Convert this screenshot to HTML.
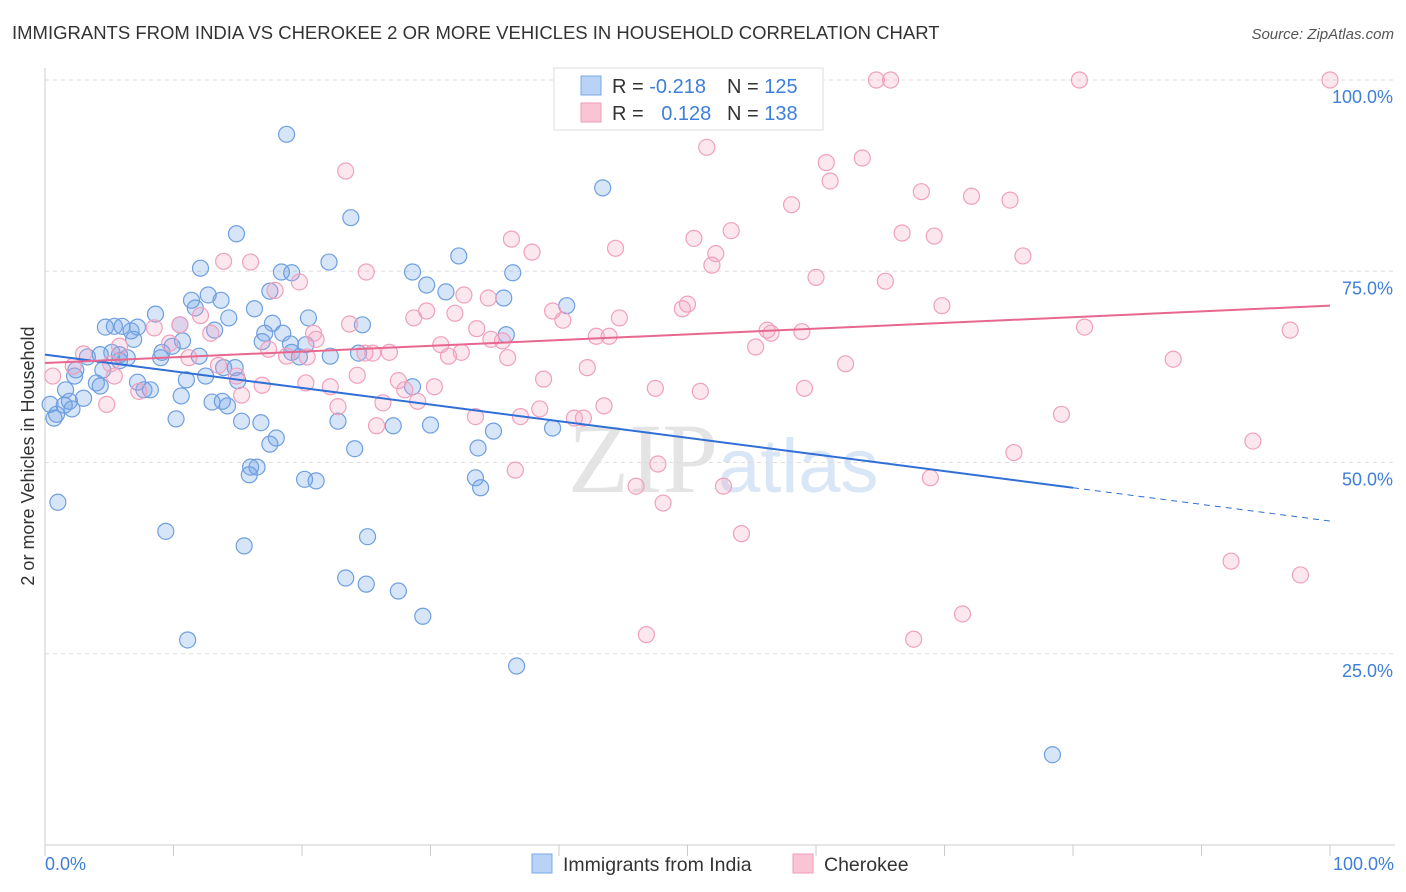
<!DOCTYPE html>
<html><head><meta charset="utf-8">
<style>
body{margin:0;background:#fff;font-family:"Liberation Sans",sans-serif;}
#wrap{position:relative;width:1406px;height:892px;overflow:hidden;}
</style></head><body>
<div id="wrap">
<svg id="svg" width="1406" height="892">
<text x="12" y="39" font-size="18.5" fill="#333">IMMIGRANTS FROM INDIA VS CHEROKEE 2 OR MORE VEHICLES IN HOUSEHOLD CORRELATION CHART</text>
<text x="1394" y="39" font-size="15" fill="#555" font-style="italic" text-anchor="end">Source: ZipAtlas.com</text>
<text x="718" y="492" font-size="100" fill="#e4e4e4" text-anchor="end" font-family="Liberation Serif">ZIP</text>
<text x="718" y="492" font-size="76" fill="#d9e6f5">atlas</text>
<g id="grid"></g>
<g id="axes"></g>
<g id="pts"></g>
<g id="trend"></g>
<text transform="translate(34,456) rotate(-90)" font-size="18" fill="#333" text-anchor="middle">2 or more Vehicles in Household</text>
<text x="45" y="870" font-size="18" fill="#3d7fd9">0.0%</text>
<text x="1394" y="870" font-size="18" fill="#3d7fd9" text-anchor="end">100.0%</text>
<g>
<rect x="554" y="68" width="269" height="62" fill="#fff" stroke="#ddd"/>
<rect x="581" y="76" width="20" height="19" fill="#b8d3f5" stroke="#7aa7e6"/>
<rect x="581" y="103" width="20" height="19" fill="#f9c5d4" stroke="#ef9ab6"/>
<text x="612" y="93" font-size="20" fill="#333">R = <tspan fill="#3d7fd9">-0.218</tspan></text>
<text x="727" y="93" font-size="20" fill="#333">N = <tspan fill="#3d7fd9">125</tspan></text>
<text x="612" y="120" font-size="20" fill="#333">R = <tspan fill="#3d7fd9" dx="12">0.128</tspan></text>
<text x="727" y="120" font-size="20" fill="#333">N = <tspan fill="#3d7fd9">138</tspan></text>
</g>
<g>
<rect x="532" y="854" width="20" height="19" fill="#b8d3f5" stroke="#7aa7e6"/>
<text x="563" y="871" font-size="19.5" fill="#333">Immigrants from India</text>
<rect x="793" y="854" width="20" height="19" fill="#f9c5d4" stroke="#ef9ab6"/>
<text x="824" y="871" font-size="19.5" fill="#333">Cherokee</text>
</g>
</svg>
</div>
<script>
const yTicks=[100,75,50,25];
const yTickLabels=["100.0%","75.0%","50.0%","25.0%"];
const xTicks=[0,10,20,30,40,50,60,70,80,90,100];
const indiaX=[18.8,43.4,23.8,14.9,32.2,22.1,12.1,18.4,19.2,28.6,36.4,29.7,17.5,31.2,12.7,11.4,13.7,35.7,11.7,40.6,16.3,8.6,20.5,14.3,17.7,24.7,4.7,5.4,6.0,7.2,10.5,6.7,13.2,17.1,18.5,35.9,6.9,10.7,9.9,16.9,19.1,20.3,5.2,9.1,4.3,5.8,3.3,6.4,9.0,12.0,19.8,22.2,24.4,5.8,13.9,14.8,2.4,4.5,2.3,12.5,11.0,15.0,7.2,4.0,4.3,1.6,8.2,7.7,28.6,10.6,3.0,1.9,13.0,13.8,0.4,1.5,14.2,2.1,0.9,0.7,10.2,15.3,22.8,16.8,27.1,30.0,34.9,39.5,18.0,17.5,24.1,33.7,16.0,16.5,15.9,20.2,21.1,33.5,33.9,1.0,9.4,25.1,15.5,23.4,25.0,27.5,29.4,11.1,36.7,78.4,19.2];
const indiaY=[92.9,85.9,82.0,79.9,77.0,76.2,75.4,74.9,74.8,74.9,74.8,73.2,72.4,72.3,71.9,71.2,71.2,71.5,70.2,70.5,70.1,69.4,68.9,68.9,68.2,68.0,67.7,67.8,67.8,67.7,68.0,67.2,67.3,66.9,66.9,66.7,66.1,65.9,65.2,65.8,65.5,65.4,64.4,64.4,64.1,64.1,63.8,63.7,63.7,63.9,63.8,63.9,64.3,63.3,62.4,62.4,62.1,62.1,61.3,61.3,60.8,60.7,60.5,60.4,60.0,59.5,59.5,59.5,59.9,58.7,58.4,58.0,57.9,58.0,57.6,57.5,57.4,57.0,56.3,55.8,55.7,55.4,55.4,55.2,54.8,54.9,54.1,54.5,53.2,52.4,51.8,51.9,49.4,49.4,48.4,47.8,47.6,48.0,46.7,44.8,41.0,40.3,39.1,34.9,34.1,33.2,29.9,26.8,23.4,11.8,64.4];
const cherX=[64.7,65.8,80.5,100,53.7,51.5,63.6,23.4,60.8,61.1,68.2,72.1,75.1,58.1,69.2,66.7,36.3,53.4,50.5,44.4,37.9,52.2,76.1,51.9,16.0,13.9,25.0,60.0,65.4,19.8,17.9,32.6,34.5,50.0,49.6,69.8,39.5,29.7,31.9,28.7,12.1,44.7,40.3,23.7,10.5,8.5,33.6,80.9,96.9,56.2,56.5,58.9,20.9,12.9,42.9,43.9,21.1,34.7,35.6,30.8,9.7,55.3,5.8,17.4,32.4,24.9,25.5,26.8,31.4,20.4,36.0,11.2,18.8,3.0,87.8,62.3,5.1,13.5,2.2,42.2,0.6,5.4,24.3,14.9,38.8,27.5,20.3,16.9,30.3,22.2,28.0,47.5,59.1,51.0,7.3,15.3,29.0,26.3,4.8,43.5,22.8,38.5,79.1,33.5,37.0,41.2,41.9,25.8,94.0,75.4,47.7,36.6,68.9,46.0,52.8,48.1,54.2,92.3,97.7,71.4,46.8,67.6];
const cherY=[100,100,100,100,99.7,91.2,89.8,88.1,89.2,86.8,85.4,84.8,84.3,83.7,79.6,80.0,79.2,80.3,79.3,78.0,77.5,77.3,77.0,75.8,76.2,76.3,74.9,74.2,73.7,73.6,72.5,71.9,71.5,70.7,70.1,70.5,69.8,69.8,69.5,68.9,69.2,68.9,68.6,68.1,68.0,67.6,67.5,67.7,67.3,67.3,66.9,67.1,66.9,66.9,66.5,66.5,66.1,66.1,65.9,65.4,65.6,65.1,65.2,64.8,64.4,64.3,64.3,64.4,63.9,63.8,63.7,63.7,63.9,64.2,63.5,62.9,62.9,62.7,62.6,62.4,61.3,61.3,61.4,61.3,60.9,60.7,60.4,60.1,59.9,59.9,59.5,59.7,59.7,59.3,59.3,58.8,58.0,57.8,57.6,57.4,57.3,57.0,56.3,56.0,56.0,55.8,55.8,54.8,52.8,51.3,49.8,49.0,48.0,46.9,46.9,44.7,40.7,37.1,35.3,30.2,27.5,26.9];
const indiaTrend=[64.1,-0.2175]; // intercept, slope
const cherTrend=[63.0,0.075];
const NS="http://www.w3.org/2000/svg";
const X=v=>45+v*12.85, Y=v=>845-v*7.65;
function mk(tag,attrs,parent){const e=document.createElementNS(NS,tag);for(const k in attrs)e.setAttribute(k,attrs[k]);parent.appendChild(e);return e;}
const grid=document.getElementById('grid'),axes=document.getElementById('axes'),pts=document.getElementById('pts'),trend=document.getElementById('trend');
yTicks.forEach((t,i)=>{
 const l=mk('line',{x1:45,x2:1395,y1:Y(t),y2:Y(t),stroke:'#dedede','stroke-dasharray':'4,4'},grid);
 
 
 const tx=mk('text',{x:1393,y:Y(t)+23,'font-size':18,fill:'#3d7fd9','text-anchor':'end'},grid);
 tx.textContent=yTickLabels[i];
 
 
});
let a=mk('line',{x1:45,x2:45,y1:68,y2:845,stroke:'#ccc'},axes);


a=mk('line',{x1:45,x2:1395,y1:845,y2:845,stroke:'#ccc'},axes);


xTicks.forEach(t=>{const e=mk('line',{x1:X(t),x2:X(t),y1:845,y2:856,stroke:'#ccc'},axes);
 
 });
indiaX.forEach((x,i)=>{const c=mk('circle',{cx:X(x),cy:Y(indiaY[i]),r:8,fill:'rgba(110,160,230,0.28)',stroke:'#6f9fe0','stroke-width':1.2},pts);
 
 });
cherX.forEach((x,i)=>{const c=mk('circle',{cx:X(x),cy:Y(cherY[i]),r:8,fill:'rgba(245,160,190,0.25)',stroke:'#f0a0bc','stroke-width':1.2},pts);
 
 });
const f=(t,x)=>t[0]+t[1]*x;
let l=mk('line',{x1:X(0),y1:Y(f(indiaTrend,0)),x2:X(80),y2:Y(f(indiaTrend,80)),stroke:'#2f6fd6','stroke-width':2},trend);


l=mk('line',{x1:X(80),y1:Y(f(indiaTrend,80)),x2:X(100),y2:Y(f(indiaTrend,100)),stroke:'#2f6fd6','stroke-width':1,'stroke-dasharray':'6,5'},trend);


l=mk('line',{x1:X(0),y1:Y(f(cherTrend,0)),x2:X(100),y2:Y(f(cherTrend,100)),stroke:'#e8678f','stroke-width':2},trend);


</script>
</body></html>
